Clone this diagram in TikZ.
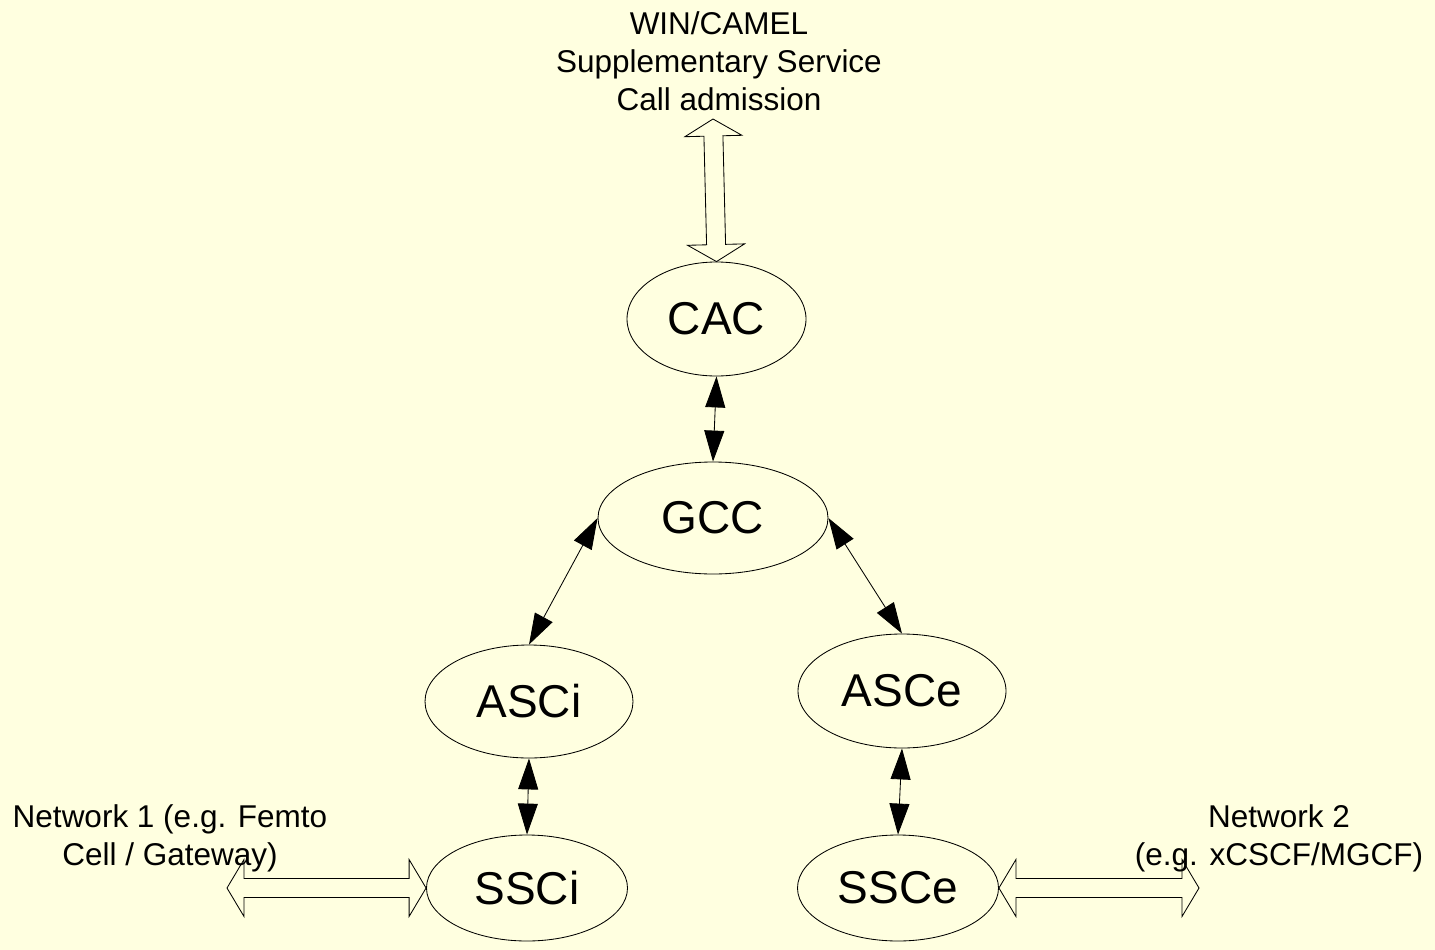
\documentclass[tikz,border=0pt]{standalone}
\usepackage{fontspec}
\setmainfont{Liberation Sans}
\usetikzlibrary{shapes.geometric,arrows.meta,calc}
\definecolor{paper}{HTML}{FFFFE0}

% open double block arrow between two points (head length 17, head half-width 28.5, shaft half-width 9.5)
\newcommand\dblblock[2]{%
  \draw[block] (#1)
    -- ($(#1)!17pt!(#2)!28.5pt!90:(#2)$)
    -- ($(#1)!17pt!(#2)!9.5pt!90:(#2)$)
    -- ($(#2)!17pt!(#1)!9.5pt!-90:(#1)$)
    -- ($(#2)!17pt!(#1)!28.5pt!-90:(#1)$)
    -- (#2)
    -- ($(#2)!17pt!(#1)!28.5pt!90:(#1)$)
    -- ($(#2)!17pt!(#1)!9.5pt!90:(#1)$)
    -- ($(#1)!17pt!(#2)!9.5pt!-90:(#2)$)
    -- ($(#1)!17pt!(#2)!28.5pt!-90:(#2)$)
    -- cycle;}

\begin{document}
\begin{tikzpicture}[x=1pt,y=-1pt,
  unit/.style={ellipse,draw,line width=0.85pt,inner sep=0pt,
    font=\fontsize{46}{55}\selectfont},
  notetext/.style={align=center,inner sep=0pt,
    font=\fontsize{31.5}{38}\selectfont},
  link/.style={line width=0.85pt,
    {Triangle[length=31pt,width=20pt]}-{Triangle[length=31pt,width=20pt]}},
  block/.style={line width=0.85pt,line join=miter}
]
\fill[paper] (0,0) rectangle (1435,950);
\useasboundingbox (0,0) rectangle (1435,950);

% functional units
\node[unit,minimum width=179pt,minimum height=114pt] (cac)  at (716.5,319) {CAC};
\node[unit,minimum width=230pt,minimum height=112pt] (gcc)  at (713,518)   {GCC};
\node[unit,minimum width=208pt,minimum height=113pt] (asci) at (529,701.5) {ASCi};
\node[unit,minimum width=208pt,minimum height=114pt] (asce) at (902,691)   {ASCe};
\node[unit,minimum width=201pt,minimum height=106pt] (ssci) at (527,888)   {SSCi};
\node[unit,minimum width=201pt,minimum height=106pt] (ssce) at (898,888)   {SSCe};

% external interfaces
\node[notetext] (win)  at (719,61)  {WIN/CAMEL\\Supplementary Service\\Call admission};
\node[notetext] (net1) at (170,838) {Network 1 (e.g. Femto\\Cell / Gateway)};
\node[notetext] (net2) at (1279,838) {Network 2\\(e.g. xCSCF/MGCF)};

\coordinate (wintip) at (713,119);
\coordinate (n1tip)  at (227,888);
\coordinate (n2tip)  at (1199,888);

% internal links
\draw[link] (cac.south) -- (gcc.north);
\draw[link] (gcc.west)  -- (asci.north);
\draw[link] (gcc.east)  -- (asce.north);
\draw[link] (asci.south) -- (ssci.north);
\draw[link] (asce.south) -- (ssce.north);

% interface arrows
\dblblock{wintip}{cac.north}
\dblblock{n1tip}{ssci.west}
\dblblock{ssce.east}{n2tip}
\end{tikzpicture}
\end{document}
